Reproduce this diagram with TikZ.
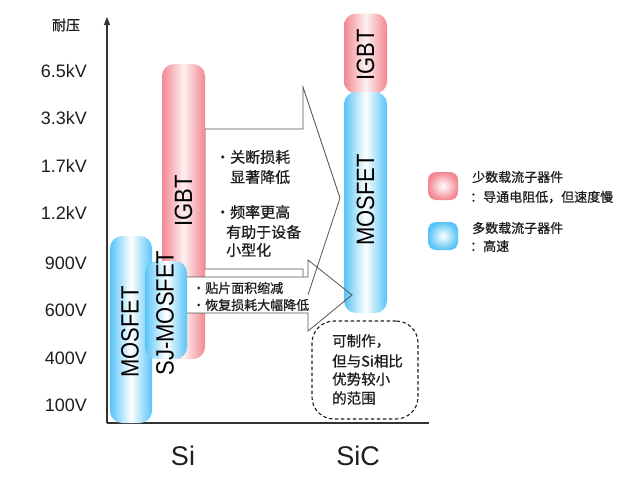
\documentclass[tikz,border=0pt]{standalone}
\usepackage{fontspec}
\setmainfont{Liberation Sans}
\newfontfamily\cjk[FakeBold=0.8]{Noto Sans CJK SC}
\newfontfamily\boxfont[FakeStretch=0.88]{Liberation Sans}
\usetikzlibrary{arrows.meta}
\definecolor{bluec}{RGB}{88,196,247}
\definecolor{pinkc}{RGB}{243,135,145}
\definecolor{linec}{RGB}{85,85,85}
\definecolor{txtc}{RGB}{30,30,30}
\begin{document}
\begin{tikzpicture}[x=1pt,y=-1pt,
  bluebox/.style={rounded corners=12pt, left color=bluec, right color=bluec, middle color=white, draw=none, inner sep=0pt},
  pinkbox/.style={rounded corners=12pt, left color=pinkc, right color=pinkc, middle color=pinkc!12, draw=none, inner sep=0pt},
  boxlbl/.style={rotate=90, font=\boxfont\fontsize{25}{25}\selectfont, text=black, inner sep=0pt},
  tick/.style={anchor=east, font=\fontsize{18}{18}\selectfont, text=txtc, inner sep=0pt},
  zh/.style={anchor=west, inner sep=0pt, font=\cjk\fontsize{15}{15}\selectfont, text=txtc},
  zhs/.style={anchor=west, inner sep=0pt, font=\cjk\fontsize{13}{13}\selectfont, text=txtc},
  arrowshape/.style={draw=linec, line width=0.8pt, line join=miter},
  axisline/.style={draw=black!80, line width=1.4pt},
  legbox/.style={rounded corners=8pt, minimum width=30pt, minimum height=28pt, draw=none, inner sep=0pt}
]
\useasboundingbox (0,0) rectangle (620,482);

% axes
\coordinate (o) at (107,423);
\coordinate (ytop) at (107,17);
\coordinate (xend) at (429,423);
\draw[axisline, -{Triangle[length=8pt,width=6pt]}] (o) -- (ytop);
\draw[axisline] (o) -- (xend);

% axis labels
\node[inner sep=0pt, font=\cjk\fontsize{14}{14}\selectfont, text=txtc] (ylab) at (66,25) {耐压};
\node[tick] (t1) at (87,71) {6.5kV};
\node[tick] (t2) at (87,118) {3.3kV};
\node[tick] (t3) at (87,166) {1.7kV};
\node[tick] (t4) at (87,213) {1.2kV};
\node[tick] (t5) at (87,263) {900V};
\node[tick] (t6) at (87,310) {600V};
\node[tick] (t7) at (87,358) {400V};
\node[tick] (t8) at (87,405) {100V};
\node[inner sep=0pt, font=\fontsize{27}{27}\selectfont, text=txtc] (si) at (183,456) {Si};
\node[inner sep=0pt, font=\fontsize{27}{27}\selectfont, text=txtc] (sic) at (358,456) {SiC};

% big arrow
\filldraw[arrowshape, fill=white] (205,129) -- (303,129) -- (303,87) -- (340,198) -- (303,310) -- (303,269) -- (205,269) -- cycle;

% Si IGBT
\node[pinkbox, minimum width=43pt, minimum height=295pt] (siigbt) at (183.5,211.5) {};
\node[boxlbl] (siigbtl) at (183.5,201) {IGBT};

% SiC boxes
\node[pinkbox, minimum width=43pt, minimum height=80pt] (sicigbt) at (365.5,53.5) {};
\node[boxlbl] (sicigbtl) at (365.5,55) {IGBT};
\node[bluebox, minimum width=43pt, minimum height=221pt] (sicmos) at (365.5,202.5) {};
\node[boxlbl] (sicmosl) at (365.5,200) {MOSFET};

% small arrow
\fill[white] (183,277) rectangle (308,313);
\draw[arrowshape] (183,277) -- (308,277) -- (308,260) -- (352,295) -- (308,331) -- (308,313) -- (183,313) -- cycle;

% Si MOSFET and SJ-MOSFET
\node[bluebox, minimum width=42pt, minimum height=187pt] (simos) at (131,329.5) {};
\node[boxlbl] (simosl) at (130,332) {MOSFET};
\node[bluebox, minimum width=42pt, minimum height=98pt] (sjmos) at (166,310) {};
\node[boxlbl] (sjmosl) at (165,313) {SJ-MOSFET};

% big arrow text
\node[zh] (b1) at (215,157) {・关断损耗};
\node[zh] (b2) at (230,177) {显著降低};
\node[zh] (b3) at (215,212) {・频率更高};
\node[zh] (b4) at (226,232) {有助于设备};
\node[zh] (b5) at (226,250) {小型化};

% small arrow text
\node[zhs] (s1) at (192,288) {・贴片面积缩减};
\node[zhs] (s2) at (192,305) {・恢复损耗大幅降低};

% dashed note
\node[draw=txtc, dash pattern=on 3.5pt off 2.5pt, line width=1.1pt, rounded corners=22pt, minimum width=106pt, minimum height=98pt, inner sep=0pt] (note) at (365,370) {};
\node[zh, font=\cjk\fontsize{14.5}{14.5}\selectfont] (n1) at (332,341) {可制作，};
\node[zh, font=\cjk\fontsize{14.5}{14.5}\selectfont] (n2) at (332,361) {但与Si相比};
\node[zh, font=\cjk\fontsize{14.5}{14.5}\selectfont] (n3) at (332,379) {优势较小};
\node[zh, font=\cjk\fontsize{14.5}{14.5}\selectfont] (n4) at (332,398) {的范围};

% legend
\node[legbox, inner color=white, outer color=pinkc] (legp) at (443,186) {};
\node[legbox, inner color=white, outer color=bluec] (legb) at (443,236) {};
\node[zhs] (l1) at (472,177) {少数载流子器件};
\node[zhs] (l2) at (470,197) {：导通电阻低，但速度慢};
\node[zhs] (l3) at (472,228) {多数载流子器件};
\node[zhs] (l4) at (470,246) {：高速};
\end{tikzpicture}
\end{document}
